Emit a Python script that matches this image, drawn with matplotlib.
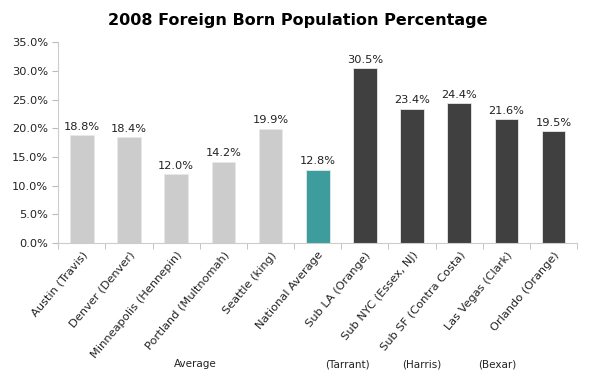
import numpy as np
import matplotlib
matplotlib.use("Agg")
import matplotlib.pyplot as plt

# Data
categories = [
    "Austin (Travis)", "Denver (Denver)", "Minneapolis (Hennepin)",
    "Portland (Multnomah)", "Seattle (king)", "National Average",
    "Sub LA (Orange)", "Sub NYC (Essex, NJ)", "Sub SF (Contra Costa)",
    "Las Vegas (Clark)", "Orlando (Orange)",
]
values = [18.8, 18.4, 12.0, 14.2, 19.9, 12.8, 30.5, 23.4, 24.4, 21.6, 19.5]
groups = ["light"] * 5 + ["national"] + ["dark"] * 5
second_labels = ["Average", "(Tarrant)", "(Harris)", "(Bexar)"]
second_pos = [2.4, 5.62, 7.2, 8.8]

colors = {"light": "#cccccc", "national": "#3d9c9c", "dark": "#404040"}

plt.rcParams["font.family"] = "DejaVu Sans"
fig = plt.figure(figsize=(5.95, 3.84), dpi=100)
ax = fig.add_axes([0.098, 0.367, 0.872, 0.523])

x = np.arange(len(categories))
ax.bar(x, values, width=0.5, color=[colors[g] for g in groups],
       edgecolor="#e8e8e8", linewidth=0.6)
for xi, v in zip(x, values):
    ax.text(xi, v + 0.6, "{:.1f}%".format(v), ha="center", va="bottom",
            fontsize=8.2, color="#222222")

ax.set_xlim(-0.5, len(categories) - 0.5)
ax.set_ylim(0, 35)
ax.set_yticks(np.arange(0, 36, 5))
ax.set_yticklabels(["{:.1f}%".format(t) for t in np.arange(0, 36, 5)],
                   fontsize=8.2, color="#222222")
ax.set_xticks(x)
ax.set_xticklabels(categories, rotation=50, ha="right", rotation_mode="anchor",
                   fontsize=8.2, color="#222222")
ax.set_xticks(np.arange(-0.5, len(categories), 1), minor=True)
ax.tick_params(axis="x", which="major", length=0, pad=5)
ax.tick_params(axis="x", which="minor", length=4, color="#bbbbbb", direction="out")
ax.tick_params(axis="y", length=4, color="#bbbbbb", direction="out")

for s in ["top", "right"]:
    ax.spines[s].set_visible(False)
for s in ["left", "bottom"]:
    ax.spines[s].set_color("#cccccc")

# second-level category labels
for lab, p in zip(second_labels, second_pos):
    ax.annotate(lab, xy=(p, 0), xycoords=("data", "axes fraction"),
                xytext=(0, -121), textcoords="offset pixels",
                ha="center", va="center", fontsize=7.5, color="#222222")

fig.suptitle("2008 Foreign Born Population Percentage", x=0.5, y=0.965,
             fontsize=11.5, fontweight="bold")

fig.savefig("out.png", dpi=100)
